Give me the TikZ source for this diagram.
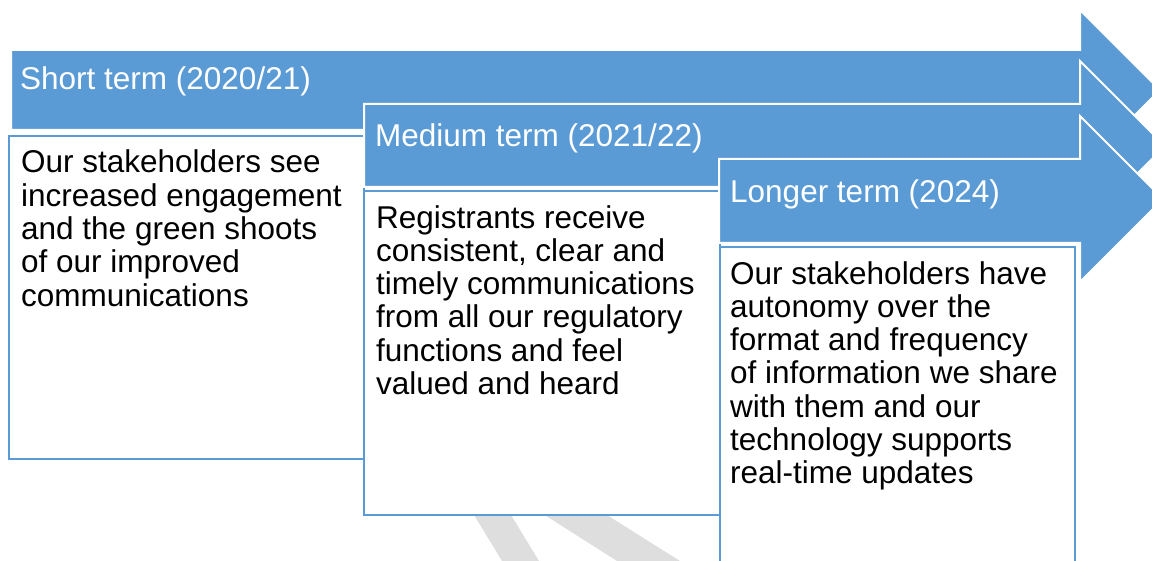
\documentclass[tikz,border=0pt]{standalone}
\usepackage{fontspec}
\setmainfont{Liberation Sans}
\definecolor{arrowblue}{HTML}{5B9BD5}
\definecolor{bandgrey}{HTML}{DEDEDE}
\begin{document}
\begin{tikzpicture}[x=1pt,y=-1pt,
  arrowshape/.style={fill=arrowblue,draw=white,line width=2pt,line join=miter},
  boxshape/.style={fill=white,draw=arrowblue,line width=2.6pt},
  headtext/.style={text=white,anchor=base west,inner sep=0pt,font=\fontsize{31.5}{33.3}\selectfont},
  bodytext/.style={text=black,anchor=base west,inner sep=0pt,align=left,font=\fontsize{31.5}{33.3}\selectfont}]
\useasboundingbox (0,0) rectangle (1152,561);
% arrow 1 and box 1
\draw[arrowshape] (11,50) -- (1080,50) -- (1080,10) -- (1160,90) -- (1080,170) -- (1080,130) -- (11,130) -- cycle;
\draw[boxshape] (9,136) rectangle (364,459);
% grey bands
\fill[bandgrey] (468,505) -- (505,505) -- (539,561) -- (502,561) -- cycle;
\fill[bandgrey] (529,505) -- (591,505) -- (680,561) -- (617,561) -- cycle;
% arrow 2 and box 2
\draw[arrowshape] (364,104) -- (1080,104) -- (1080,61) -- (1165,146) -- (1080,231) -- (1080,187) -- (364,187) -- cycle;
\draw[boxshape] (364,191) rectangle (720,515);
% arrow 3 and box 3
\draw[arrowshape] (719,159) -- (1080,159) -- (1080,116) -- (1163,199) -- (1080,282) -- (1080,243) -- (719,243) -- cycle;
\draw[boxshape] (720,247) rectangle (1075,580);
% texts
\node[headtext] (h1) at (20,90) {Short term (2020/21)};
\node[headtext] (h2) at (375,147) {Medium term (2021/22)};
\node[headtext] (h3) at (730,203) {Longer term (2024)};
\node[bodytext] (b1) at (21,306.2) {Our stakeholders see\\increased engagement\\and the green shoots\\of our improved\\communications};
\node[bodytext] (b2) at (376,394.5) {Registrants receive\\consistent, clear and\\timely communications\\from all our regulatory\\functions and feel\\valued and heard};
\node[bodytext] (b3) at (730,483.8) {Our stakeholders have\\autonomy over the\\format and frequency\\of information we share\\with them and our\\technology supports\\real-time updates};
\end{tikzpicture}
\end{document}
